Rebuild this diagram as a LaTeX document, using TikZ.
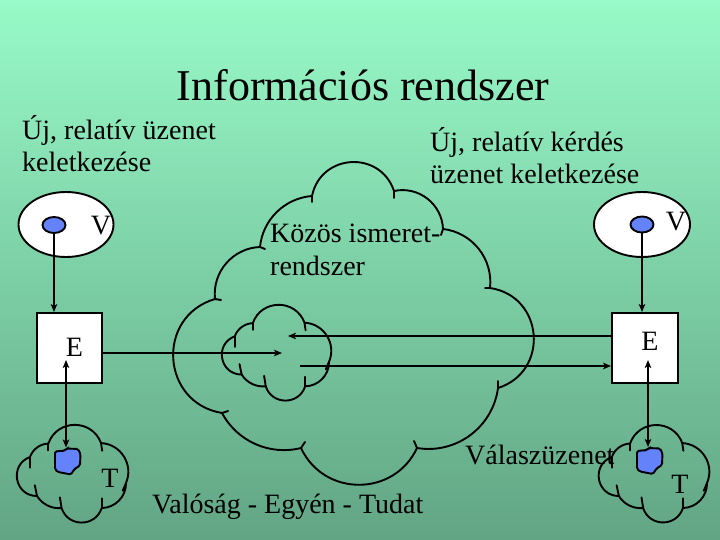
\documentclass[tikz,border=0pt]{standalone}
\usepackage{fontspec}
\setmainfont{Liberation Serif}
\usetikzlibrary{arrows.meta,shapes.geometric}
\definecolor{bgtop}{RGB}{152,250,200}
\definecolor{bgbot}{RGB}{98,165,132}
\definecolor{dotblue}{RGB}{100,130,250}
\tikzset{
  ln/.style={line width=1.9pt, draw=black},
  arr/.style={ln, -{Stealth[length=8pt,width=6.5pt,inset=2pt]}},
  arrb/.style={ln, {Stealth[length=8pt,width=6.5pt,inset=2pt]}-{Stealth[length=8pt,width=6.5pt,inset=2pt]}},
  cl/.style={ln, line join=round, line cap=round},
  bmp/.style={bend left=#1, /utils/exec={\pgfmathsetmacro\bmplo{4/3*tan(#1/2)/(2*sin(#1))/0.3915}}, looseness/.expanded=\bmplo},
  vell/.style={ellipse, draw, ln, fill=white, inner sep=0pt},
  vdot/.style={ellipse, draw, ln, fill=dotblue, inner sep=0pt, minimum width=23pt, minimum height=16pt},
  ebox/.style={rectangle, draw, ln, fill=white, minimum width=65pt, minimum height=70pt, inner sep=0pt},
  txt/.style={font=\fontsize{28}{33.6}\selectfont, inner sep=0pt},
  ttl/.style={font=\fontsize{44}{52}\selectfont, inner sep=0pt},
}
\newcommand\smallcloud[4]{%
  \begin{scope}[shift={(#1,#2)}, x=#3pt, y=-#4pt]
    \draw[cl] (0.118,0.330) to[bmp=34] (0.285,0.191) to[bmp=70] (0.764,0.186)
      to[bmp=55] (0.991,0.598) to[bmp=45] (0.770,0.856) to[bmp=72] (0.405,0.856)
      to[bmp=32] (0.182,0.732) to[bmp=80] (0.118,0.330);
    \draw[cl] (0.118,0.330) -- ++(0,0.11);
    \draw[cl] (0.285,0.191) -- ++(0,0.07);
    \draw[cl] (0.764,0.186) -- ++(0.01,0.08);
    \draw[cl] (0.991,0.598) -- ++(-0.03,0.08);
    \draw[cl] (0.770,0.856) -- ++(0,-0.10);
    \draw[cl] (0.405,0.856) -- ++(-0.015,-0.11);
    \draw[cl] (0.182,0.732) -- ++(-0.02,-0.11);
  \end{scope}}
\newcommand\blueblob[2]{%
  \begin{scope}[shift={(#1,#2)}]
    \draw[ln, fill=dotblue, rounded corners=1.5pt] (-11,3) -- (-1,2) -- (0.5,0) -- (12,0.5)
      -- (14.5,5.5) -- (14,17) -- (8.5,20.5) -- (5,26) -- (-8,23.5) -- (-11,21) -- cycle;
  \end{scope}}
\begin{document}
\begin{tikzpicture}[x=1pt,y=-1pt]
\useasboundingbox (0,0) rectangle (720,540);
\shade[top color=bgtop, bottom color=bgbot] (0,0) rectangle (720,540);

% big cloud
\draw[cl] (215,299) to[bmp=47] (260,247) to[bmp=40] (312,196) to[bmp=75] (394,191)
  to[bmp=50] (443,229) to[bmp=45] (490,288) to[bmp=77] (498,388) to[bmp=46] (417,448)
  to[bmp=65] (301,448) to[bmp=38] (222,413) to[bmp=77] (215,299);
\draw[cl] (215,299) -- ++(6,1);
\draw[cl] (260,247) -- ++(5,2);
\draw[cl] (312,196) -- ++(0,6);
\draw[cl] (394,191) -- ++(0,7);
\draw[cl] (443,229) -- ++(-2,6);
\draw[cl] (490,288) -- ++(-5,0);
\draw[cl] (498,388) -- ++(0,-7);
\draw[cl] (417,448) -- ++(-3,-7);
\draw[cl] (301,448) -- ++(4,-6);
\draw[cl] (222,413) -- ++(6,-2);

% small clouds
\smallcloud{222}{305}{108}{95}
\smallcloud{17}{425}{110}{97}
\smallcloud{599}{425}{109}{97}

% V ellipses
\node[vell, minimum width=95pt, minimum height=65pt] (V1) at (66,224.5) {};
\node[vdot] (D1) at (54,225) {};
\node[txt, anchor=base] (V1t) at (101,235) {V};
\node[vell, minimum width=96pt, minimum height=65pt] (V2) at (642,224.5) {};
\node[vdot] (D2) at (642,224.5) {};
\node[txt, anchor=base] (V2t) at (676,230) {V};

% E boxes
\node[ebox] (E1) at (69.5,348) {};
\node[txt, anchor=base] (E1t) at (74.5,356) {E};
\node[ebox, minimum width=66pt] (E2) at (645,348) {};
\node[txt, anchor=base] (E2t) at (650,350) {E};

% blobs
\blueblob{66}{448.5}
\blueblob{648}{448}
\coordinate (B1) at (66,447.5);
\coordinate (B2) at (648,447);

% connectors
\draw[arr] (D1.south) -- (D1.south |- E1.north);
\draw[arr] (D2.south) -- (D2.south |- E2.north);
\coordinate (u1) at (66,360);
\coordinate (u2) at (648,360);
\draw[arrb] (u1) -- (B1);
\draw[arrb] (u2) -- (B2);
\coordinate (h1) at (282,353);
\coordinate (h2) at (288,336);
\coordinate (h3) at (300,366);
\draw[arr] (E1.east |- h1) -- (h1);
\draw[arr] (E2.west |- h2) -- (h2);
\draw[arr] (h3) -- (E2.west |- h3);

% texts
\node[ttl, anchor=base] (title) at (363,101) {Információs rendszer};
\node[txt, anchor=base west] (l1a) at (22,140) {Új, relatív üzenet};
\node[txt, anchor=base west] (l1b) at (22,172) {keletkezése};
\node[txt, anchor=base west] (r1a) at (430,152) {Új, relatív kérdés};
\node[txt, anchor=base west] (r1b) at (430,184) {üzenet keletkezése};
\node[txt, anchor=base west] (k1) at (270,243) {Közös ismeret-};
\node[txt, anchor=base west] (k2) at (270,275) {rendszer};
\node[txt, anchor=base west] (val) at (465,464) {Válaszüzenet};
\node[txt, anchor=base west] (veg) at (152,513) {Valóság - Egyén - Tudat};
\node[txt, anchor=base] (T1t) at (110,487) {T};
\node[txt, anchor=base] (T2t) at (680,493) {T};
\end{tikzpicture}
\end{document}
